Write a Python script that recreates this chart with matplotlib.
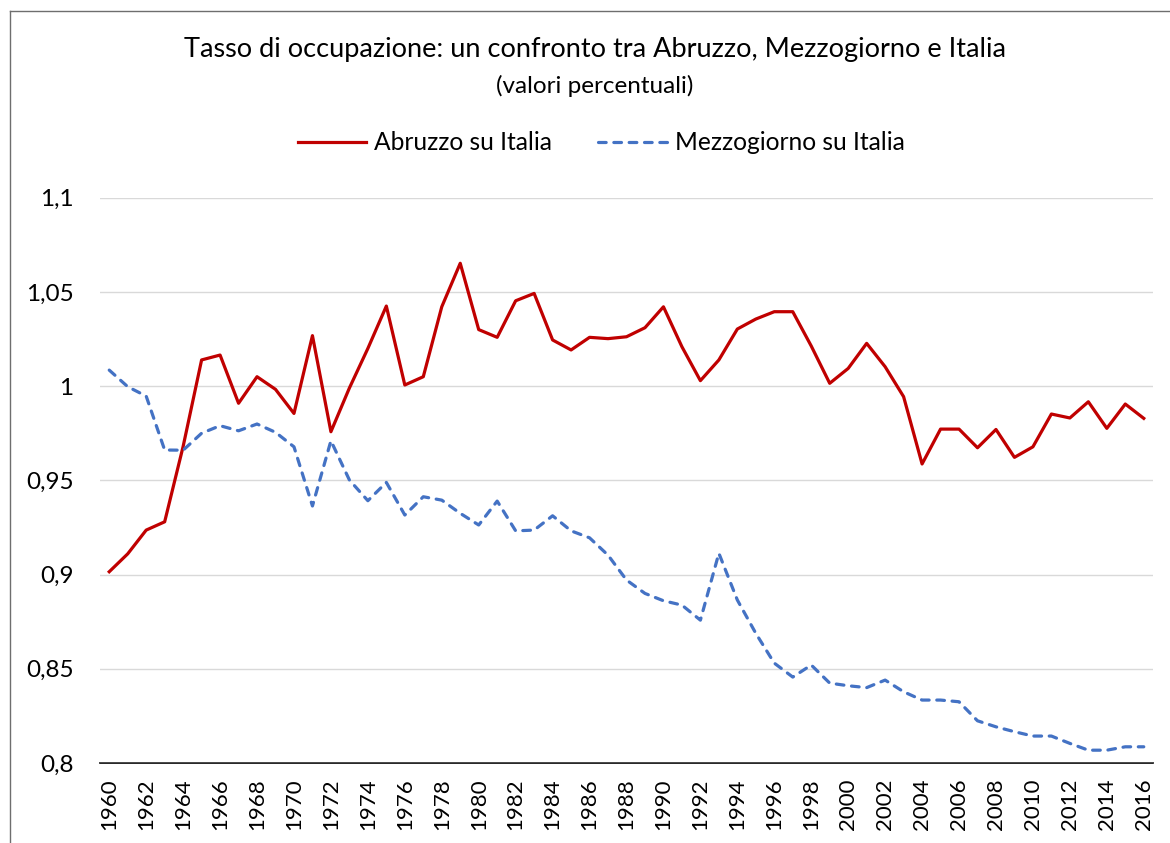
import matplotlib
matplotlib.use("Agg")
import matplotlib.pyplot as plt
from matplotlib.lines import Line2D

plt.rcParams['font.family'] = ['Lato', 'DejaVu Sans']

# data
years = list(range(1960, 2017))
abruzzo = [0.9015, 0.911, 0.9236, 0.928, 0.968, 1.0139, 1.0165, 0.9909, 1.005, 0.9983,
           0.9855, 1.0268, 0.9758, 0.999, 1.020, 1.0425, 1.0006, 1.005, 1.0421, 1.0652,
           1.030, 1.0259, 1.0453, 1.0492, 1.0245, 1.0192, 1.0259, 1.0252, 1.0262, 1.031,
           1.0421, 1.0209, 1.0029, 1.0139, 1.0303, 1.0356, 1.0395, 1.0395, 1.0213, 1.0015,
           1.0094, 1.0227, 1.0103, 0.9944, 0.9587, 0.9772, 0.9772, 0.9673, 0.977, 0.9622,
           0.9678, 0.9852, 0.9831, 0.9917, 0.9776, 0.9905, 0.9829]
mezzogiorno = [1.0085, 0.9997, 0.9947, 0.9661, 0.966, 0.975, 0.979, 0.9763, 0.9799, 0.9755,
               0.9678, 0.9364, 0.971, 0.9502, 0.9392, 0.9489, 0.9316, 0.9413, 0.9395, 0.9325,
               0.9263, 0.939, 0.9232, 0.9236, 0.9312, 0.9232, 0.9195, 0.9103, 0.8971, 0.890,
               0.8861, 0.8838, 0.8758, 0.9113, 0.8865, 0.8688, 0.853, 0.8456, 0.852, 0.8424,
               0.841, 0.840, 0.844, 0.8378, 0.8334, 0.8334, 0.8325, 0.8224, 0.8192, 0.8166,
               0.8143, 0.8143, 0.8104, 0.8068, 0.8068, 0.8086, 0.8086]
y_ticks = [0.8, 0.85, 0.9, 0.95, 1.0, 1.05, 1.1]
y_labels = ["0,8", "0,85", "0,9", "0,95", "1", "1,05", "1,1"]
x_ticks = years[::2]

RED = "#C00000"
BLUE = "#4472C4"
DASH = (0, (2.4, 2.4))

W, H = 1170, 843
fig = plt.figure(figsize=(W / 100, H / 100), dpi=100)
ax = fig.add_axes([100 / W, 1 - 763 / H, 1053 / W, (763 - 197.7) / H])

ax.plot(years, abruzzo, color=RED, lw=2.3, solid_joinstyle="round", label="Abruzzo su Italia")
ax.plot(years, mezzogiorno, color=BLUE, lw=2.3, linestyle=DASH,
        dash_capstyle="round", label="Mezzogiorno su Italia")

ax.set_xlim(1959.5, 2016.5)
ax.set_ylim(0.8, 1.1)
ax.set_yticks(y_ticks)
ax.set_yticklabels(y_labels)
ax.set_xticks(x_ticks)
ax.set_xticklabels([str(y) for y in x_ticks], rotation=90)
ax.tick_params(axis="y", length=0, pad=19, labelsize=17.5)
ax.tick_params(axis="x", length=0, pad=11, labelsize=16)
ax.grid(axis="y", color="#D9D9D9", lw=1.0)
ax.set_axisbelow(True)
for s in ["top", "right", "left"]:
    ax.spines[s].set_visible(False)
ax.spines["bottom"].set_color("black")
ax.spines["bottom"].set_linewidth(1.2)
ax.spines["bottom"].set_zorder(0.5)

# title + subtitle
fig.text(595.5 / W, 1 - 50 / H, "Tasso di occupazione: un confronto tra Abruzzo, Mezzogiorno e Italia",
         ha="center", va="center", fontsize=19.5)
fig.text(595 / W, 1 - 86 / H, "(valori percentuali)", ha="center", va="center", fontsize=17.5)

# legend
handles = [Line2D([], [], color=RED, lw=2.3),
           Line2D([], [], color=BLUE, lw=2.3, linestyle=DASH, dash_capstyle="round")]
fig.legend(handles, ["Abruzzo su Italia", "Mezzogiorno su Italia"], loc="center",
           bbox_to_anchor=(601 / W, 1 - 143 / H), ncol=2, frameon=False, fontsize=17.7,
           handlelength=2.8, handletextpad=0.3, columnspacing=1.9)

# chart frame (left and top edges visible)
fig.add_artist(Line2D([10 / W, 10 / W], [0, 1 - 11 / H], color="#6E6E6E", lw=1.0))
fig.add_artist(Line2D([10 / W, 1], [1 - 11 / H, 1 - 11 / H], color="#6E6E6E", lw=1.0))

fig.savefig("out.png", dpi=100)
